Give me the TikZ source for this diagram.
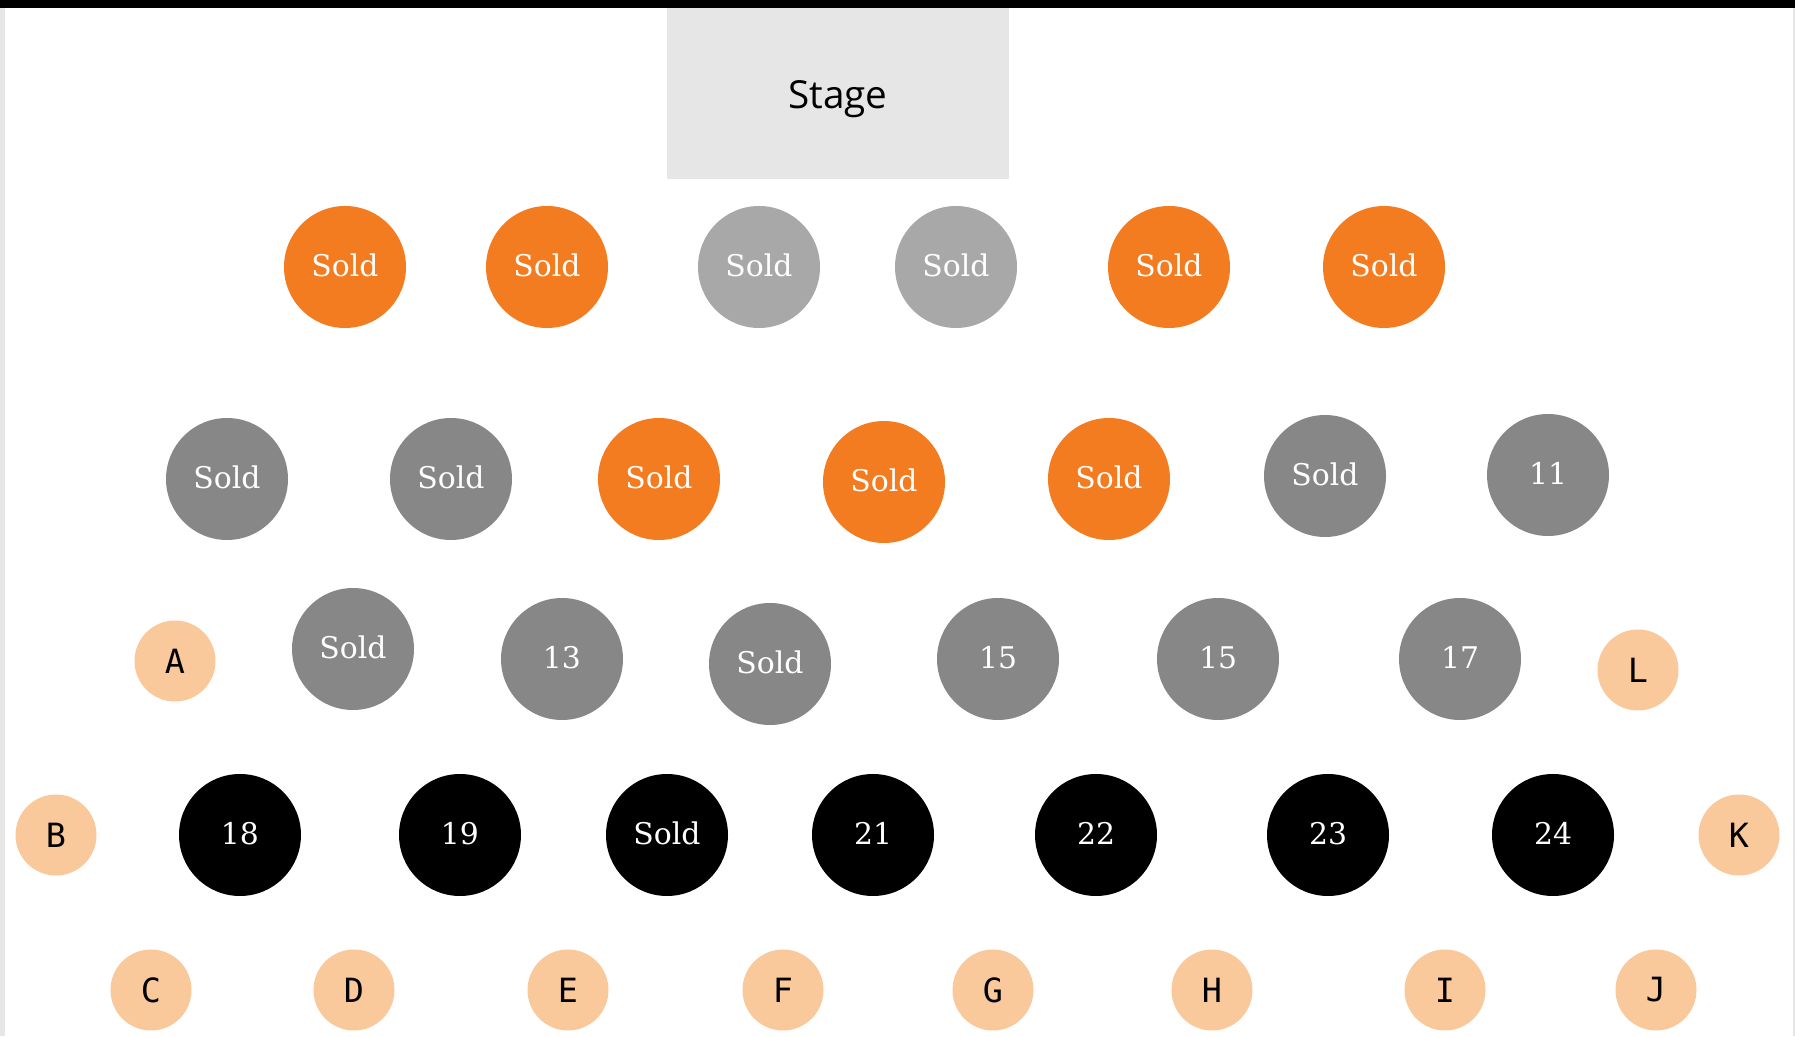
\documentclass[tikz,border=0pt]{standalone}
\usepackage{fontspec}
\newfontfamily\seatfont{DejaVu Serif}
\newfontfamily\stagefont{Open Sans}
\newfontfamily\letterfont{DejaVu Sans Mono}
\definecolor{seatorange}{HTML}{F37B20}
\definecolor{seatpale}{HTML}{A8A8A8}
\definecolor{seatgrey}{HTML}{878787}
\definecolor{aislepeach}{HTML}{F9C89B}
\definecolor{stagegrey}{HTML}{E6E6E6}

\begin{document}
\begin{tikzpicture}[
    seat/.style={circle, minimum size=1.22cm, inner sep=0pt, text=white,
      text height=5.2pt, text depth=0pt,
      font=\seatfont\fontsize{8.5}{10}\selectfont},
    orangeseat/.style={seat, fill=seatorange},
    paleseat/.style={seat, fill=seatpale},
    greyseat/.style={seat, fill=seatgrey},
    blackseat/.style={seat, fill=black},
    aisle/.style={circle, minimum size=0.81cm, inner sep=0pt, fill=aislepeach,
      font=\letterfont\fontsize{9.5}{11}\selectfont},
    stagebox/.style={fill=stagegrey, minimum width=3.42cm, minimum height=1.71cm,
      inner sep=0pt, text height=8.5pt, text depth=0pt,
      font=\stagefont\fontsize{11}{13}\selectfont}]

    \useasboundingbox (0, 0) rectangle (17.95, 10.36);

    % Frame: top bar and side strips
    \fill[black] (0, 10.28) rectangle (17.95, 10.36);
    \fill[stagegrey] (0, 0) rectangle (0.05, 10.28);
    \fill[stagegrey] (17.93, 0) rectangle (17.95, 10.28);

    % Stage
    \node[stagebox] (stage) at (8.38, 9.425) {Stage};

    % Front row
    \foreach \x/\st [count=\i] in {3.45/orangeseat, 5.47/orangeseat,
        7.59/paleseat, 9.56/paleseat, 11.69/orangeseat, 13.84/orangeseat} {
      \node[\st] (front\i) at (\x, 7.69) {Sold};
    }

    % Second row
    \foreach \x/\y/\st/\txt [count=\i] in {2.27/5.57/greyseat/Sold,
        4.51/5.57/greyseat/Sold, 6.59/5.57/orangeseat/Sold,
        8.84/5.54/orangeseat/Sold, 11.09/5.57/orangeseat/Sold,
        13.25/5.60/greyseat/Sold, 15.48/5.61/greyseat/11} {
      \node[\st] (second\i) at (\x, \y) {\txt};
    }

    % Third row
    \foreach \x/\y/\txt [count=\i] in {3.53/3.87/Sold, 5.62/3.77/13,
        7.70/3.72/Sold, 9.98/3.77/15, 12.18/3.77/15, 14.60/3.77/17} {
      \node[greyseat] (third\i) at (\x, \y) {\txt};
    }

    % Back row
    \foreach \x/\txt [count=\i] in {2.40/18, 4.60/19, 6.67/Sold,
        8.73/21, 10.96/22, 13.28/23, 15.53/24} {
      \node[blackseat] (back\i) at (\x, 2.01) {\txt};
    }

    % Aisle letters
    \node[aisle] (aisleA) at (1.75, 3.75) {A};
    \node[aisle] (aisleL) at (16.38, 3.66) {L};
    \node[aisle] (aisleB) at (0.56, 2.01) {B};
    \node[aisle] (aisleK) at (17.39, 2.01) {K};
    \foreach \x/\txt in {1.51/C, 3.54/D, 5.68/E, 7.83/F,
        9.93/G, 12.12/H, 14.45/I, 16.56/J} {
      \node[aisle] (aisle\txt) at (\x, 0.46) {\txt};
    }

  \end{tikzpicture}
\end{document}
